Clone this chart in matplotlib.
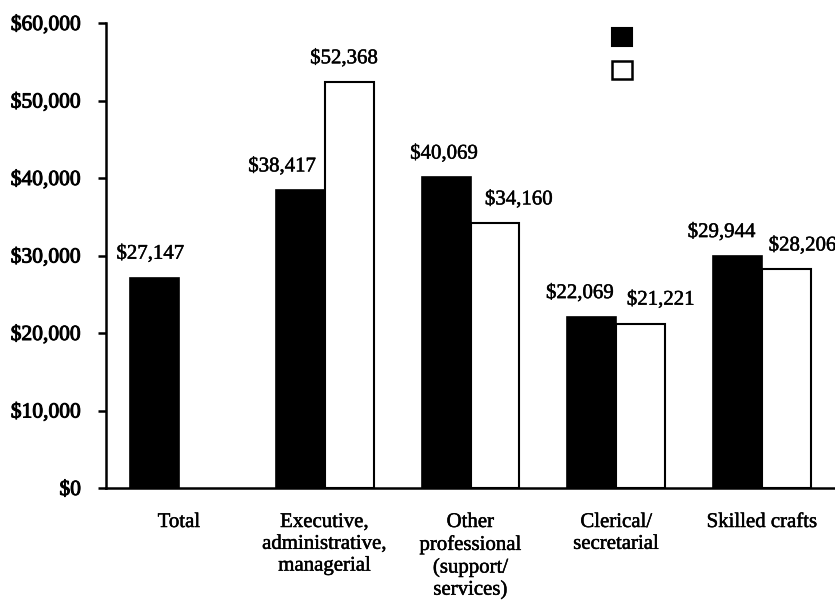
import matplotlib
matplotlib.use("Agg")
import matplotlib.pyplot as plt
import matplotlib.patheffects as pe
from matplotlib.patches import Patch
import numpy as np

categories = ["Total",
              "Executive,\nadministrative,\nmanagerial",
              "Other\nprofessional\n(support/\nservices)",
              "Clerical/\nsecretarial",
              "Skilled crafts"]
series_black = [27147, 38417, 40069, 22069, 29944]
series_white = [None, 52368, 34160, 21221, 28206]
yticks = [0, 10000, 20000, 30000, 40000, 50000, 60000]

# label horizontal nudges (pixels) for readability, style only
black_dx = [-4, -18, -2, -12, -16]
white_dx = [0, -5, 24, 20, 16]

plt.rcParams['font.family'] = ['Liberation Serif', 'DejaVu Serif']
ink = [pe.withStroke(linewidth=0.35, foreground='black')]
ink_tick = [pe.withStroke(linewidth=0.7, foreground='black')]

fig = plt.figure(figsize=(8.35, 6.14), dpi=100)
ax = fig.add_axes([0.127, 0.2052, 0.873, 0.7573])

x = np.arange(len(categories))
w = 0.335
ax.bar(x - w / 2, series_black, width=w, color='black', edgecolor='black', linewidth=1.2)
wx = [xi + w / 2 for xi, v in zip(x, series_white) if v is not None]
wv = [v for v in series_white if v is not None]
wdx = [d for d, v in zip(white_dx, series_white) if v is not None]
ax.bar(wx, wv, width=w, color='white', edgecolor='black', linewidth=1.5)

for xi, v, d in zip(x - w / 2, series_black, black_dx):
    ax.annotate(f"${v:,}", (xi, v), xytext=(d * 0.72, 10), textcoords='offset points',
                ha='center', va='bottom', fontsize=15, clip_on=False, path_effects=ink)
for xi, v, d in zip(wx, wv, wdx):
    ax.annotate(f"${v:,}", (xi, v), xytext=(d * 0.72, 10), textcoords='offset points',
                ha='center', va='bottom', fontsize=15, clip_on=False, path_effects=ink)

ax.set_xlim(-0.5, 4.5)
ax.set_ylim(0, 60000)
ax.set_yticks(yticks)
ax.set_yticklabels([f"${t:,}" for t in yticks], fontsize=15.5)
ax.set_xticks(x)
ax.set_xticklabels(categories, fontsize=15, linespacing=1.2, va='top')
for t in ax.get_yticklabels():
    t.set_path_effects(ink_tick)
for t in ax.get_xticklabels():
    t.set_path_effects(ink)
ax.tick_params(axis='x', length=0, pad=18)
ax.tick_params(axis='y', length=6, width=1.8, pad=12, direction='out')
for s in ['top', 'right']:
    ax.spines[s].set_visible(False)
ax.spines['left'].set_linewidth(1.8)
ax.spines['bottom'].set_linewidth(1.8)

handles = [Patch(facecolor='black', edgecolor='black', linewidth=1.5),
           Patch(facecolor='white', edgecolor='black', linewidth=1.8)]
fig.legend(handles, ['', ''], loc='upper left', bbox_to_anchor=(0.733, 0.954),
           frameon=False, fontsize=14, handlelength=1.05, handleheight=1.05,
           handletextpad=0, borderpad=0, borderaxespad=0, labelspacing=0.65)

fig.savefig("out.png", dpi=100)
